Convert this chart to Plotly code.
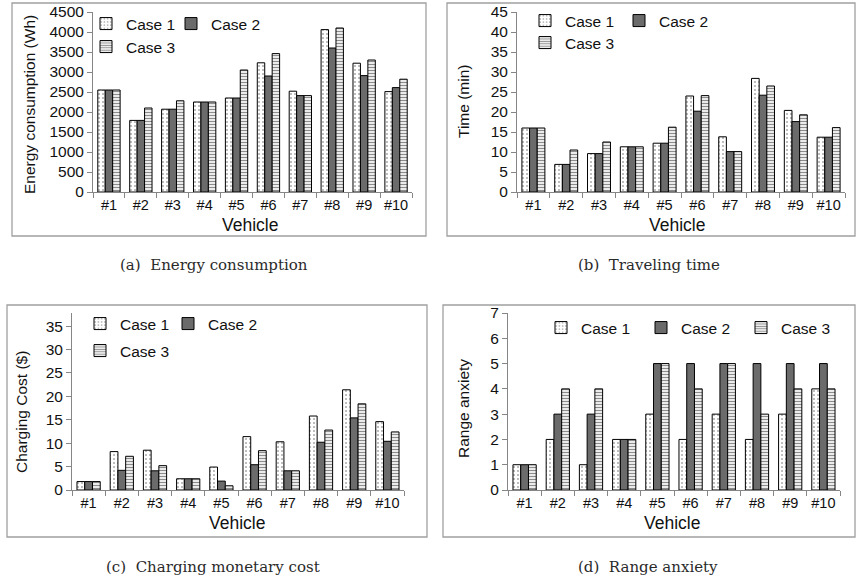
import plotly.graph_objects as go

W, H = 856, 580

vehicles = ["#1", "#2", "#3", "#4", "#5", "#6", "#7", "#8", "#9", "#10"]
cases = ["Case 1", "Case 2", "Case 3"]

energy_c1 = [2550, 1790, 2070, 2250, 2350, 3230, 2520, 4060, 3220, 2510]
energy_c2 = [2550, 1790, 2070, 2250, 2350, 2900, 2410, 3600, 2910, 2610]
energy_c3 = [2550, 2100, 2280, 2250, 3050, 3460, 2410, 4100, 3300, 2820]

time_c1 = [16.0, 6.9, 9.6, 11.3, 12.2, 24.0, 13.8, 28.4, 20.4, 13.7]
time_c2 = [16.0, 6.9, 9.6, 11.3, 12.2, 20.2, 10.1, 24.2, 17.6, 13.7]
time_c3 = [16.0, 10.5, 12.5, 11.3, 16.2, 24.1, 10.1, 26.5, 19.3, 16.1]

cost_c1 = [1.8, 8.2, 8.5, 2.4, 4.9, 11.4, 10.3, 15.8, 21.4, 14.6]
cost_c2 = [1.8, 4.2, 4.1, 2.4, 1.9, 5.4, 4.1, 10.2, 15.4, 10.4]
cost_c3 = [1.8, 7.2, 5.2, 2.4, 0.9, 8.4, 4.1, 12.8, 18.4, 12.4]

anx_c1 = [1, 2, 1, 2, 3, 2, 3, 2, 3, 4]
anx_c2 = [1, 3, 3, 2, 5, 5, 5, 5, 5, 5]
anx_c3 = [1, 4, 4, 2, 5, 4, 5, 3, 4, 4]

energy_ticks = [0, 500, 1000, 1500, 2000, 2500, 3000, 3500, 4000, 4500]
time_ticks = [0, 5, 10, 15, 20, 25, 30, 35, 40, 45]
cost_ticks = [0, 5, 10, 15, 20, 25, 30, 35]
anx_ticks = [0, 1, 2, 3, 4, 5, 6, 7]

SANS = "Liberation Sans, Arial, sans-serif"
SERIF = "DejaVu Serif, serif"
AXC = "#868686"
TXT = "#111"


def px(x):
    return x / W


def py(y):
    return 1 - y / H


styles = [
    dict(color="white", pattern=dict(shape=".", fgcolor="#a8a8a8", bgcolor="white",
                                     size=4, solidity=0.2, fillmode="replace")),
    dict(color="#6b6b6b"),
    dict(color="white", pattern=dict(shape="-", fgcolor="#8c8c8c", bgcolor="white",
                                     size=3, solidity=0.45, fillmode="replace")),
]

# legend symbol centres (px) for each panel's three cases
legend_pos = [
    [(110, 25), (195, 25), (110, 48)],
    [(549, 22), (643, 22), (549, 44)],
    [(104, 325), (192, 325), (104, 352)],
    [(565, 329), (665, 329), (765, 329)],
]

fig = go.Figure()

panels = [
    ([energy_c1, energy_c2, energy_c3], "x", "y"),
    ([time_c1, time_c2, time_c3], "x2", "y2"),
    ([cost_c1, cost_c2, cost_c3], "x3", "y3"),
    ([anx_c1, anx_c2, anx_c3], "x4", "y4"),
]

legends = {}
n = 0
for p, (series, xa, ya) in enumerate(panels):
    for i, vals in enumerate(series):
        n += 1
        lname = "legend" if n == 1 else "legend%d" % n
        cx, cy = legend_pos[p][i]
        legends[lname] = dict(
            x=px(cx - 24), y=py(cy - 18), xanchor="left", yanchor="top",
            orientation="h", font=dict(family=SANS, size=15.5, color=TXT),
            bgcolor="rgba(0,0,0,0)", borderwidth=0, itemclick=False,
        )
        mk = dict(styles[i])
        mk["line"] = dict(color="black", width=1)
        fig.add_trace(go.Bar(
            x=vehicles, y=vals, name=cases[i], xaxis=xa, yaxis=ya,
            marker=mk, legend=lname, showlegend=True,
        ))

geo = {
    "": dict(x0=93, x1=412, ytop=12, ybot=192, rng=[0, 4500], ticks=energy_ticks),
    "2": dict(x0=517, x1=845, ytop=12, ybot=192, rng=[0, 45], ticks=time_ticks),
    "3": dict(x0=72, x1=404, ytop=313, ybot=490, rng=[0, 37.8], ticks=cost_ticks),
    "4": dict(x0=508, x1=840, ytop=313, ybot=490, rng=[0, 7], ticks=anx_ticks),
}

layout_axes = {}
for k, g in geo.items():
    layout_axes["xaxis" + k] = dict(
        domain=[px(g["x0"]), px(g["x1"])], anchor="y" + k,
        type="category", tickson="boundaries", ticks="outside", ticklen=5,
        tickcolor=AXC, showline=True, linecolor=AXC, linewidth=1,
        showgrid=False, zeroline=False, automargin=False, tickangle=0,
        tickfont=dict(family=SANS, size=14.5, color=TXT),
    )
    layout_axes["yaxis" + k] = dict(
        domain=[py(g["ybot"]), py(g["ytop"])], anchor="x" + k,
        range=g["rng"], tickvals=g["ticks"], ticks="outside", ticklen=5,
        tickcolor=AXC, showline=True, linecolor=AXC, linewidth=1,
        showgrid=False, zeroline=False, automargin=False,
        tickfont=dict(family=SANS, size=15.5, color=TXT),
    )

boxes = [(12, 3, 426, 236), (447, 3, 855, 236), (7, 305, 427, 537), (443, 305, 855, 537)]
shapes = [dict(type="rect", xref="paper", yref="paper", x0=px(a), x1=px(c), y0=py(d), y1=py(b),
               line=dict(color="#a0a0a0", width=1.3), fillcolor="rgba(0,0,0,0)", layer="below")
          for a, b, c, d in boxes]

annotations = []
ytitles = [("Energy consumption (Wh)", 30, 105), ("Time (min)", 463, 102),
           ("Charging Cost ($)", 21, 412), ("Range anxiety", 463, 409)]
for t, x, y in ytitles:
    annotations.append(dict(text=t, x=px(x), y=py(y), xref="paper", yref="paper",
                            xanchor="center", yanchor="middle",
                            textangle=-90, showarrow=False,
                            font=dict(family=SANS, size=15.5, color=TXT)))
xtitles = [(250, 225), (677, 225), (237, 523), (672, 523)]
for x, y in xtitles:
    annotations.append(dict(text="Vehicle", x=px(x), y=py(y), xref="paper", yref="paper",
                            xanchor="center", yanchor="middle",
                            showarrow=False, font=dict(family=SANS, size=17.5, color=TXT)))
captions = [("(a)  Energy consumption", 214, 265), ("(b)  Traveling time", 649, 265),
            ("(c)  Charging monetary cost", 213, 567), ("(d)  Range anxiety", 648, 567)]
for t, x, y in captions:
    annotations.append(dict(text=t, x=px(x), y=py(y), xref="paper", yref="paper",
                            xanchor="center", yanchor="middle",
                            showarrow=False, font=dict(family=SERIF, size=15, color="#2a2a2a")))

fig.update_layout(
    width=W, height=H, margin=dict(l=0, r=0, t=0, b=0, autoexpand=False),
    paper_bgcolor="white", plot_bgcolor="white",
    barmode="group", bargap=0.3, bargroupgap=0,
    shapes=shapes, annotations=annotations,
    **layout_axes, **legends,
)

fig.write_html("out.html")
